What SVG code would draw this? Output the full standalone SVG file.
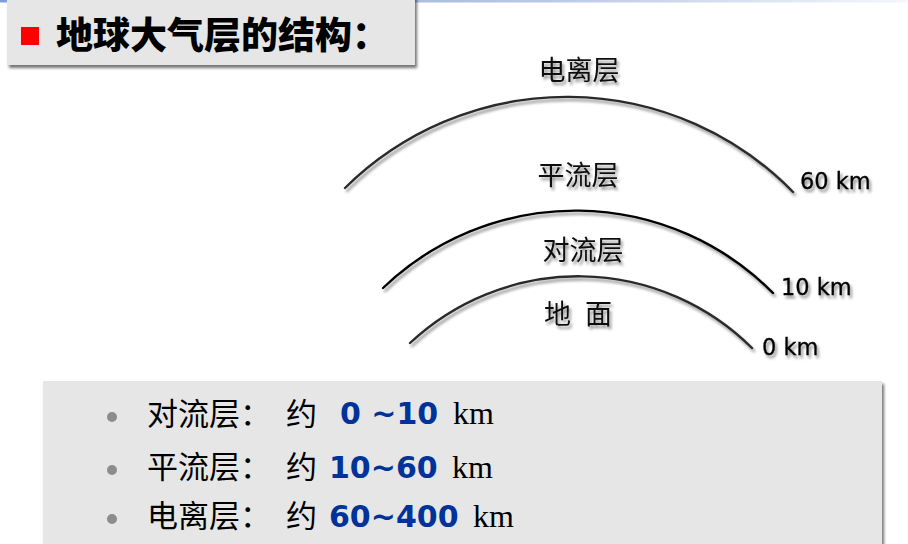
<svg xmlns="http://www.w3.org/2000/svg" width="908" height="544" viewBox="0 0 908 544">
  <defs>
    <linearGradient id="topline" x1="0" y1="0" x2="1" y2="0">
      <stop offset="0" stop-color="#7f9fd3"/>
      <stop offset="0.6" stop-color="#b8c8e6"/>
      <stop offset="1" stop-color="#f4f6fb"/>
    </linearGradient>
    <filter id="boxshadow" x="-5%" y="-20%" width="110%" height="150%">
      <feGaussianBlur in="SourceAlpha" stdDeviation="1.5"/>
      <feOffset dx="2" dy="3" result="b"/>
      <feComponentTransfer><feFuncA type="linear" slope="0.55"/></feComponentTransfer>
      <feMerge><feMergeNode/><feMergeNode in="SourceGraphic"/></feMerge>
    </filter>
    <filter id="soft" x="-10%" y="-30%" width="120%" height="160%">
      <feGaussianBlur in="SourceAlpha" stdDeviation="1.6"/>
      <feOffset dx="2" dy="2.5" result="b"/>
      <feComponentTransfer><feFuncA type="linear" slope="0.45"/></feComponentTransfer>
      <feMerge><feMergeNode/><feMergeNode in="SourceGraphic"/></feMerge>
    </filter>
  </defs>
  <style>
    .arc { fill: none; stroke: #2a2a2a; stroke-width: 2.4; stroke-linecap: round; }
    .lbl { font-family: "Noto Sans CJK SC", sans-serif; font-size: 27px; fill: #111; }
    .km { font-family: "DejaVu Sans", "Liberation Sans", sans-serif; font-size: 22.5px; fill: #000; stroke: #000; stroke-width: 0.3; }
    .cjk { font-family: "Noto Sans CJK SC", sans-serif; font-size: 31px; fill: #000; }
    .num { font-family: "DejaVu Sans", "Liberation Sans", sans-serif; font-weight: bold; font-size: 30px; fill: #003399; }
    .unit { font-family: "Liberation Serif", serif; font-size: 32px; fill: #000; }
    .bullet { fill: #8c8c8c; }
  </style>
  <rect x="0" y="0" width="908" height="544" fill="#ffffff"/>
  <rect x="0" y="0" width="908" height="2.5" fill="url(#topline)"/>

  <g id="title">
    <rect x="7" y="-5" width="408" height="70" fill="#e6e6e6" filter="url(#boxshadow)"/>
    <rect x="21" y="27" width="18" height="18" fill="#ff0000"/>
    <text x="56" y="49" font-family="Noto Sans CJK SC, sans-serif" font-weight="900" font-size="37" fill="#000">地球大气层的结构：</text>
  </g>

  <g id="connectors" filter="url(#soft)">
    <path class="arc" d="M345,188 A316,316 0 0 1 793,192"/>
    <path class="arc" style="stroke:#000" d="M383,288 A278,278 0 0 1 773,293"/>
    <path class="arc" d="M410,343 A246,246 0 0 1 752,348"/>
  </g>

  <g id="layer-labels" filter="url(#soft)">
    <text id="ionosphere" class="lbl" x="579" y="80" text-anchor="middle">电离层</text>
    <text id="stratosphere" class="lbl" x="578" y="185" text-anchor="middle">平流层</text>
    <text id="troposphere" class="lbl" x="583" y="260" text-anchor="middle">对流层</text>
    <text id="ground" class="lbl" y="324"><tspan x="544">地</tspan><tspan x="585">面</tspan></text>
    <text id="km60" class="km" x="800" y="189">60 km</text>
    <text id="km10" class="km" x="781" y="295">10 km</text>
    <text id="km0" class="km" x="762" y="355">0 km</text>
  </g>

  <g id="summary">
    <rect x="43" y="381" width="839" height="175" fill="#e6e6e6" filter="url(#boxshadow)"/>
    <circle class="bullet" cx="112" cy="417" r="5"/>
    <circle class="bullet" cx="112" cy="470" r="5"/>
    <circle class="bullet" cx="112" cy="519" r="5"/>

    <text class="cjk" x="147" y="425">对流层：</text>
    <text class="cjk" x="286" y="425">约</text>
    <text class="num" x="340" y="424">0 ~10</text>
    <text class="unit" x="453" y="424">km</text>

    <text class="cjk" x="147" y="478">平流层：</text>
    <text class="cjk" x="286" y="478">约</text>
    <text class="num" x="329" y="478">10~60</text>
    <text class="unit" x="452" y="478">km</text>

    <text class="cjk" x="147" y="527">电离层：</text>
    <text class="cjk" x="286" y="527">约</text>
    <text class="num" x="329" y="527">60~400</text>
    <text class="unit" x="473" y="527">km</text>
  </g>
</svg>
